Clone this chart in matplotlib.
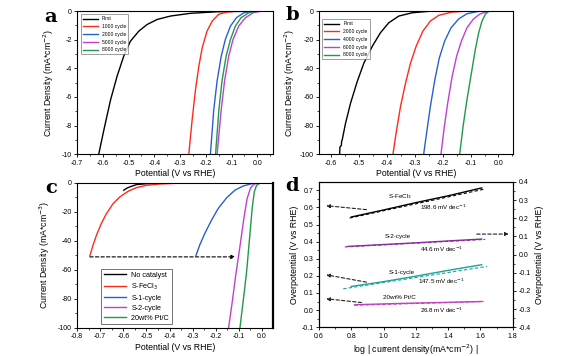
import matplotlib
matplotlib.use("Agg")
import matplotlib.pyplot as plt
import numpy as np
from matplotlib.ticker import MultipleLocator

plt.rcParams['font.family'] = ['Liberation Sans', 'DejaVu Sans']

# ---------------- Panel a data ----------------
a_labels = ["First", "1000 cycle", "2000 cycle", "5000 cycle", "8000 cycle"]
a_colors = ["black", "#ff2a1a", "#2b5fd0", "#c040d0", "#1e9a4a"]
a_first_x = [-0.616, -0.596, -0.570, -0.545, -0.519, -0.493, -0.46, -0.428, -0.389, -0.337, -0.26, -0.156, -0.05, 0.062]
a_first_y = [-10, -8.3, -6.2, -4.57, -3.16, -2.11, -1.4, -0.94, -0.59, -0.35, -0.16, -0.05, -0.02, 0]
a_1000_x = [-0.266, -0.253, -0.24, -0.227, -0.214, -0.195, -0.175, -0.15, -0.117, -0.078, 0.062]
a_1000_y = [-10, -7.6, -5.5, -3.86, -2.58, -1.4, -0.7, -0.23, -0.07, 0, 0]
a_2000_x = [-0.182, -0.169, -0.156, -0.14, -0.124, -0.104, -0.081, -0.052, -0.013, 0.062]
a_2000_y = [-10, -6.9, -4.9, -3.16, -1.99, -1.05, -0.47, -0.12, 0, 0]
a_5000_x = [-0.156, -0.14, -0.127, -0.111, -0.094, -0.072, -0.046, -0.016, 0.019, 0.062]
a_5000_y = [-10, -6.9, -4.9, -3.16, -1.99, -1.05, -0.47, -0.12, 0, 0]
a_8000_x = [-0.162, -0.149, -0.137, -0.121, -0.104, -0.085, -0.063, -0.033, 0.006, 0.062]
a_8000_y = [-10, -6.9, -4.9, -3.16, -1.99, -1.05, -0.47, -0.12, 0, 0]

# ---------------- Panel b data ----------------
b_labels = ["First", "2000 cycle", "4000 cycle", "6000 cycle", "8000 cycle"]
b_first_x = [-0.569, -0.568, -0.563, -0.562, -0.560, -0.548, -0.530, -0.506, -0.482, -0.452, -0.423, -0.393, -0.357, -0.309, -0.238, 0.051]
b_first_y = [-100, -95, -94, -91, -90.2, -78.5, -64.4, -49.2, -36.3, -24.6, -15.2, -8.2, -3.5, -1.2, 0, 0]
b_2000_x = [-0.378, -0.367, -0.351, -0.333, -0.315, -0.295, -0.271, -0.244, -0.214, -0.166, -0.107, 0.051]
b_2000_y = [-100, -85.5, -66.7, -50.4, -36.3, -24.6, -14.1, -7, -3, -0.7, 0, 0]
b_4000_x = [-0.268, -0.256, -0.244, -0.228, -0.212, -0.193, -0.17, -0.142, -0.113, -0.071, -0.023, 0.051]
b_4000_y = [-100, -83.1, -66.7, -48, -32.8, -21.1, -11.7, -5.4, -1.9, -0.2, 0, 0]
b_6000_x = [-0.206, -0.194, -0.182, -0.166, -0.15, -0.133, -0.113, -0.089, -0.065, -0.035, 0.001, 0.051]
b_6000_y = [-100, -80.8, -64.4, -45.7, -31.6, -21.1, -11.7, -5.4, -1.9, -0.2, 0, 0]
b_8000_x = [-0.139, -0.127, -0.113, -0.097, -0.083, -0.071, -0.059, -0.047, -0.035, -0.017, 0.051]
b_8000_y = [-100, -80.8, -62.1, -43.3, -26.9, -15.2, -7, -2.3, -0.2, 0, 0]

# ---------------- Panel c data ----------------
c_labels = ["No catalyst", "S-FeCl$_3$", "S-1-cycle", "S-2-cycle", "20wt% Pt/C"]
c_none_x = [-0.598, -0.585, -0.572, -0.543, -0.5, -0.413, 0.0]
c_none_y = [-5.0, -3.6, -2.7, -1.1, -0.5, 0, 0]
c_fecl_x = [-0.745, -0.731, -0.716, -0.695, -0.673, -0.644, -0.615, -0.579, -0.543, -0.5, -0.442, -0.37, 0.0]
c_fecl_y = [-50.3, -42.8, -35.9, -27.9, -21.1, -14.2, -9.6, -5.7, -3.2, -1.6, -0.7, -0.2, 0]
c_s1_x = [-0.286, -0.269, -0.247, -0.218, -0.189, -0.153, -0.117, -0.081, -0.045, -0.016, 0.0]
c_s1_y = [-50.3, -42.8, -34.8, -25.6, -17.6, -10.3, -5, -2.1, -0.5, 0, 0]
c_s2_x = [-0.144, -0.128, -0.113, -0.095, -0.078, -0.064, -0.049, -0.035, -0.016, 0.0]
c_s2_y = [-100, -81.7, -63.4, -43.9, -24.5, -10.8, -3.4, -0.9, 0, 0]
c_pt_x = [-0.095, -0.081, -0.066, -0.052, -0.042, -0.033, -0.023, -0.009, 0.006, 0.049]
c_pt_y = [-100, -81.7, -61.1, -35.9, -17.6, -6.2, -1.6, -0.2, 0, 0]
c_arrow_x = [-0.745, -0.115]
c_arrow_y = -51

# ---------------- Panel d data ----------------
d_names = ["S-FeCl$_3$", "S-2-cycle", "S-1-cycle", "20wt% Pt/C"]
d_slopes = ["198.6 mV dec$^{-1}$", "44.6 mV dec$^{-1}$", "147.5 mV dec$^{-1}$", "26.8 mV dec$^{-1}$"]
d_colors = ["black", "#8a2a9a", "#1aa39a", "#c040c0"]
d_data_x = [[0.80, 1.0, 1.2, 1.4, 1.608], [0.78, 1.0, 1.2, 1.4, 1.608],
            [0.80, 1.0, 1.2, 1.4, 1.608], [0.82, 1.0, 1.2, 1.4, 1.608]]
d_data_y = [[0.544, 0.585, 0.628, 0.668, 0.714], [0.372, 0.383, 0.393, 0.404, 0.415],
            [0.138, 0.166, 0.198, 0.232, 0.265], [0.031, 0.036, 0.041, 0.045, 0.05]]
d_fit_x = [[0.79, 1.62], [0.76, 1.63], [0.75, 1.64], [0.82, 1.62]]
d_fit_y = [[0.538, 0.706], [0.369, 0.413], [0.124, 0.255], [0.028, 0.050]]
d_name_pos = [(1.1, 0.665), (1.09, 0.43), (1.11, 0.22), (1.1, 0.074)]
d_slope_pos = [(1.37, 0.598), (1.36, 0.356), (1.36, 0.166), (1.36, -0.004)]
d_arrows = [((0.894, 0.587), (0.645, 0.61)), ((1.577, 0.444), (1.775, 0.444)),
            ((0.894, 0.163), (0.645, 0.206)), ((0.863, 0.044), (0.645, 0.066))]

fig = plt.figure(figsize=(5.8, 3.56), dpi=100)

TICK_FS = 5
LAB_FS = 6.3


def style(ax):
    for s in ax.spines.values():
        s.set_linewidth(0.8)
    ax.tick_params(axis='both', which='major', labelsize=TICK_FS, direction='out', length=2.5, width=0.6, pad=1.5)
    ax.tick_params(axis='both', which='minor', direction='out', length=1.5, width=0.5)


def letter(x, y, s):
    fig.text(x / 580, 1 - y / 356, s, fontsize=14, fontweight='bold', family='DejaVu Serif',
             ha='center', va='center')

# ---- a ----
axa = fig.add_axes([0.133, 0.567, 0.338, 0.402])
for xs, ys, lab, c in zip([a_first_x, a_1000_x, a_2000_x, a_5000_x, a_8000_x],
                          [a_first_y, a_1000_y, a_2000_y, a_5000_y, a_8000_y], a_labels, a_colors):
    axa.plot(xs, ys, color=c, lw=1.0, label=lab)
axa.set_xlim(-0.7, 0.062)
axa.set_ylim(-10, 0)
axa.xaxis.set_minor_locator(MultipleLocator(0.05))
axa.yaxis.set_minor_locator(MultipleLocator(1))
axa.set_xticks(np.arange(-0.7, 0.01, 0.1))
axa.set_xticklabels(["-0.7", "-0.6", "-0.5", "-0.4", "-0.3", "-0.2", "-0.1", "0.0"])
axa.set_yticks([0, -2, -4, -6, -8, -10])
axa.set_yticklabels(["0", "-2", "-4", "-6", "-8", "-10"])
style(axa)
axa.set_xlabel("Potential (V vs RHE)", fontsize=LAB_FS, labelpad=2)
axa.set_ylabel("Current Density (mA*cm$^{-2}$)", fontsize=LAB_FS, labelpad=4)
leg = axa.legend(loc='upper left', fontsize=3.6, frameon=True, fancybox=False, edgecolor='#555555',
                 handlelength=3, borderpad=0.4, labelspacing=0.55, bbox_to_anchor=(0.005, 0.995))
leg.get_frame().set_linewidth(0.5)
letter(51, 17, "a")

# ---- b ----
axb = fig.add_axes([0.55, 0.567, 0.334, 0.402])
for xs, ys, lab, c in zip([b_first_x, b_2000_x, b_4000_x, b_6000_x, b_8000_x],
                          [b_first_y, b_2000_y, b_4000_y, b_6000_y, b_8000_y], b_labels, a_colors):
    axb.plot(xs, ys, color=c, lw=1.0, label=lab)
axb.set_xlim(-0.643, 0.051)
axb.set_ylim(-100, 0)
axb.set_xticks([-0.6, -0.5, -0.4, -0.3, -0.2, -0.1, 0.0])
axb.set_xticklabels(["-0.6", "-0.5", "-0.4", "-0.3", "-0.2", "-0.1", "0.0"])
axb.xaxis.set_minor_locator(MultipleLocator(0.05))
axb.set_yticks([0, -20, -40, -60, -80, -100])
axb.set_yticklabels(["0", "-20", "-40", "-60", "-80", "-100"])
axb.yaxis.set_minor_locator(MultipleLocator(10))
style(axb)
axb.set_xlabel("Potential (V vs RHE)", fontsize=LAB_FS, labelpad=2)
axb.set_ylabel("Current Density (mA*cm$^{-2}$)", fontsize=LAB_FS, labelpad=2)
leg = axb.legend(loc='upper left', fontsize=3.6, frameon=True, fancybox=False, edgecolor='#555555',
                 handlelength=3, borderpad=0.4, labelspacing=0.55, bbox_to_anchor=(0.005, 0.96))
leg.get_frame().set_linewidth(0.5)
letter(292, 15, "b")

# ---- c ----
axc = fig.add_axes([0.133, 0.079, 0.338, 0.407])
for xs, ys, lab, c in zip([c_none_x, c_fecl_x, c_s1_x, c_s2_x, c_pt_x],
                          [c_none_y, c_fecl_y, c_s1_y, c_s2_y, c_pt_y], c_labels, a_colors):
    axc.plot(xs, ys, color=c, lw=1.0, label=lab)
axc.annotate("", xy=(c_arrow_x[1], c_arrow_y), xytext=(c_arrow_x[0], c_arrow_y),
             arrowprops=dict(arrowstyle='-|>', linestyle=(0, (3, 2)), lw=0.8, color='black',
                             mutation_scale=6, shrinkA=0, shrinkB=0))
axc.set_xlim(-0.8, 0.049)
axc.set_ylim(-100, 0)
axc.set_xticks([-0.8, -0.7, -0.6, -0.5, -0.4, -0.3, -0.2, -0.1, 0.0])
axc.set_xticklabels(["-0.8", "-0.7", "-0.6", "-0.5", "-0.4", "-0.3", "-0.2", "-0.1", "0.0"])
axc.xaxis.set_minor_locator(MultipleLocator(0.05))
axc.set_yticks([0, -20, -40, -60, -80, -100])
axc.set_yticklabels(["0", "-20", "-40", "-60", "-80", "-100"])
axc.yaxis.set_minor_locator(MultipleLocator(10))
style(axc)
axc.spines['right'].set_linewidth(1.6)
axc.set_xlabel("Potential (V vs RHE)", fontsize=LAB_FS, labelpad=2)
axc.set_ylabel("Current Density (mA*cm$^{-3}$)", fontsize=LAB_FS, labelpad=4)
leg = axc.legend(loc='lower left', fontsize=5.2, frameon=True, fancybox=False, edgecolor='#333333',
                 handlelength=3.0, borderpad=0.35, labelspacing=0.4, bbox_to_anchor=(0.105, 0.0))
leg.get_frame().set_linewidth(0.6)
letter(51, 188, "c")

# ---- d ----
axd = fig.add_axes([0.55, 0.081, 0.334, 0.408])
for xs, ys, fx, fy, c in zip(d_data_x, d_data_y, d_fit_x, d_fit_y, d_colors):
    axd.plot(xs, ys, color=c, lw=1.0)
    axd.plot(fx, fy, color=c, lw=0.8, ls=(0, (3, 2)))
for (nx, ny), name in zip(d_name_pos, d_names):
    axd.text(nx, ny, name, fontsize=4.5, ha='center', va='center')
for (sx, sy), s in zip(d_slope_pos, d_slopes):
    axd.text(sx, sy, s, fontsize=4.5, ha='center', va='center')
for (p0, p1) in d_arrows:
    axd.annotate("", xy=p1, xytext=p0,
                 arrowprops=dict(arrowstyle='-|>', linestyle=(0, (3, 2)), lw=0.8, color='#222222',
                                 mutation_scale=5, shrinkA=0, shrinkB=0))
axd.set_xlim(0.6, 1.8)
axd.set_ylim(-0.1, 0.749)
axd.set_xticks([0.6, 0.8, 1.0, 1.2, 1.4, 1.6, 1.8])
axd.set_xticklabels(["0.6", "0.8", "1.0", "1.2", "1.4", "1.6", "1.8"])
axd.xaxis.set_minor_locator(MultipleLocator(0.1))
axd.set_yticks([-0.1, 0.0, 0.1, 0.2, 0.3, 0.4, 0.5, 0.6, 0.7])
axd.set_yticklabels(["-0.1", "0.0", "0.1", "0.2", "0.3", "0.4", "0.5", "0.6", "0.7"])
axd.yaxis.set_minor_locator(MultipleLocator(0.05))
style(axd)
axd.set_xlabel("log | current density(mA*cm$^{-2}$) |", fontsize=LAB_FS, labelpad=2)
axd.set_ylabel("Overpotential (V vs RHE)", fontsize=LAB_FS, labelpad=2)
axd2 = axd.twinx()
axd2.set_ylim(-0.4, 0.4)
axd2.set_yticks([-0.4, -0.3, -0.2, -0.1, 0.0, 0.1, 0.2, 0.3, 0.4])
axd2.set_yticklabels(["-0.4", "-0.3", "-0.2", "-0.1", "0.0", "0.1", "0.2", "0.3", "0.4"])
axd2.yaxis.set_minor_locator(MultipleLocator(0.05))
style(axd2)
axd2.set_ylabel("Overpotential (V vs RHE)", fontsize=LAB_FS, labelpad=3)
letter(292, 186, "d")

fig.savefig("out.png", dpi=100)
